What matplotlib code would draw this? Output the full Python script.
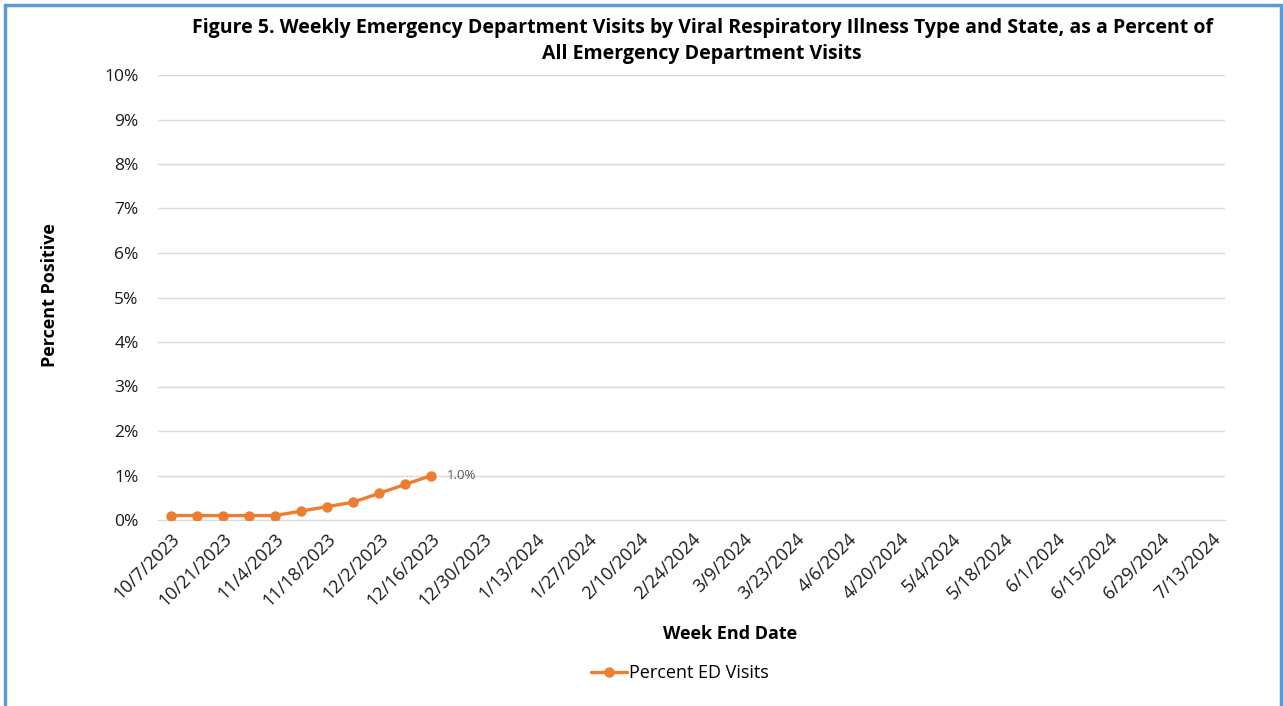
import matplotlib
matplotlib.use("Agg")
import matplotlib.pyplot as plt
from matplotlib.patches import Rectangle
import datetime as dt

# ---- data ----
start = dt.date(2023, 10, 7)
week_dates = [start + dt.timedelta(weeks=i) for i in range(41)]
week_labels = [f"{d.month}/{d.day}/{d.year}" for d in week_dates]
pct_ed_visits = [0.1, 0.1, 0.1, 0.1, 0.1, 0.2, 0.3, 0.4, 0.6, 0.8, 1.0]
y_ticks = list(range(0, 11))
title = ("Figure 5. Weekly Emergency Department Visits by Viral Respiratory Illness Type and State, as a Percent of\n"
         "All Emergency Department Visits")

plt.rcParams['font.family'] = ['Open Sans', 'DejaVu Sans']

W, H = 1283, 706
fig = plt.figure(figsize=(W / 100, H / 100), dpi=100)
ax = fig.add_axes([158 / W, 1 - 520 / H, (1225 - 158) / W, (520 - 75) / H])

orange = '#ED7D31'
x = list(range(len(pct_ed_visits)))
ax.plot(x, [v / 100 for v in pct_ed_visits], color=orange, lw=2.4, marker='o',
        markersize=6.5, label='Percent ED Visits', zorder=3, solid_capstyle='round')
ax.annotate(f"{pct_ed_visits[-1]:.1f}%", (x[-1], pct_ed_visits[-1] / 100),
            xytext=(11, 0), textcoords='offset points', va='center', ha='left',
            fontsize=9.5, color='#595959')

ax.set_xlim(-0.5, len(week_labels) - 0.5)
ax.set_ylim(0, 0.10)
ax.set_yticks([t / 100 for t in y_ticks])
ax.set_yticklabels([f"{t}%" for t in y_ticks], fontsize=12.5, color='#1a1a1a')
ax.set_xticks(range(0, len(week_labels), 2))
ax.set_xticklabels(week_labels[::2], rotation=45, ha='right', rotation_mode='anchor',
                   fontsize=13, color='#1a1a1a')
ax.tick_params(axis='both', length=0)
ax.tick_params(axis='y', pad=14)
ax.tick_params(axis='x', pad=7)
ax.grid(axis='y', color='#D9D9D9', lw=1)
ax.set_axisbelow(True)
for s in ['top', 'right', 'left']:
    ax.spines[s].set_visible(False)
ax.spines['bottom'].set_color('#D9D9D9')

fig.text(702 / W, 1 - 41 / H, title, ha='center', va='center', fontsize=14,
         fontweight='bold', linespacing=1.45)
fig.text(50 / W, 1 - 295 / H, 'Percent Positive', rotation=90, ha='center', va='center',
         fontsize=13, fontweight='bold')
fig.text(730 / W, 1 - 634 / H, 'Week End Date', ha='center', va='center',
         fontsize=13, fontweight='bold')

leg = fig.legend(loc='center', bbox_to_anchor=(680 / W, 1 - 673 / H), frameon=False,
                 fontsize=13, handlelength=2.0, handletextpad=0.1)

fig.patches.append(Rectangle((5 / W, -0.01), (1281 - 5) / W, 1 - 5 / H + 0.01,
                             transform=fig.transFigure, fill=False,
                             edgecolor='#5B9BD5', lw=2.5))

fig.savefig('out.png', dpi=100)
